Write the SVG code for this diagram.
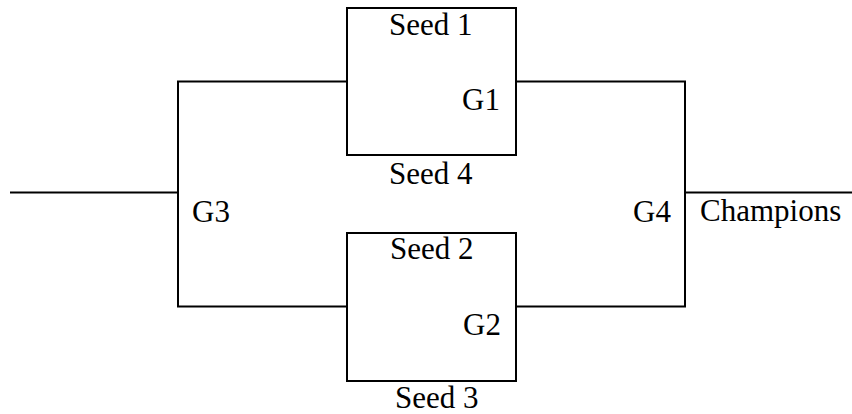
<svg xmlns="http://www.w3.org/2000/svg" width="852" height="414" viewBox="0 0 852 414">
<style>
.ln{fill:none;stroke:#000;stroke-width:2}
.box{fill:#fff;stroke:#000;stroke-width:2}
text{font-family:"Liberation Serif","Times New Roman",serif;font-size:31px;fill:#000}
</style>
<rect width="852" height="414" fill="#fff"/>
<g id="connectors">
<path class="ln" d="M10,192.5 H178"/>
<path class="ln" d="M347,81.5 H178 V306.5 H347"/>
<path class="ln" d="M516,81.5 H685 V306.5 H516"/>
<path class="ln" d="M685,192.5 H852"/>
</g>
<g id="G1">
<rect class="box" x="347" y="8" width="169" height="147"/>
<text x="389" y="35">Seed 1</text>
<text x="462" y="110">G1</text>
<text x="389" y="184">Seed 4</text>
</g>
<g id="G2">
<rect class="box" x="347" y="233" width="169" height="148"/>
<text x="390" y="259">Seed 2</text>
<text x="463" y="335">G2</text>
<text x="395" y="408">Seed 3</text>
</g>
<g id="G3">
<text x="192" y="222">G3</text>
</g>
<g id="G4">
<text x="633" y="222">G4</text>
</g>
<g id="Champions">
<text x="700" y="221">Champions</text>
</g>
</svg>
